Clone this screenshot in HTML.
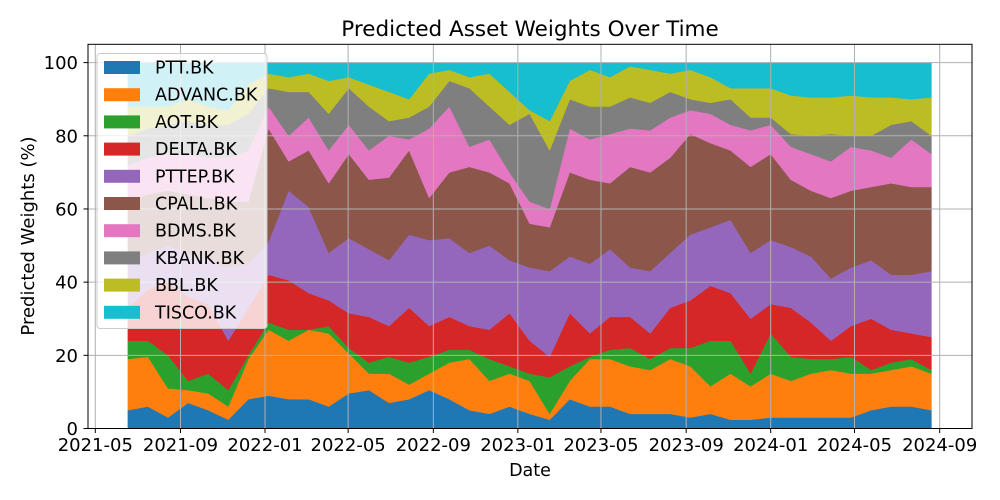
<!DOCTYPE html>
<html><head><meta charset="utf-8"><style>
html,body{margin:0;padding:0;background:#fff;}
svg{display:block;font-family:"DejaVu Sans","Liberation Sans",sans-serif;}
</style></head><body>
<svg id="chart" width="1000" height="500" viewBox="0 0 1000 500">
<rect x="0" y="0" width="1000" height="500" fill="#fff"/>
<text x="530" y="36" text-anchor="middle" font-size="21.5" fill="#000">Predicted Asset Weights Over Time</text>
<g id="areas"></g>
<g id="grid"></g>
<rect x="88" y="44.3" width="884" height="384.2" fill="none" stroke="#000" stroke-width="1"/>
<g id="xticks"></g>
<g id="yticks"></g>
<text x="530" y="476" text-anchor="middle" font-size="17.5">Date</text>
<text transform="translate(34,236) rotate(-90)" text-anchor="middle" font-size="18">Predicted Weights (%)</text>
<g id="legend"></g>
</svg>
<script>
const dates=["2021-06-17","2021-07-16","2021-08-14","2021-09-12","2021-10-11","2021-11-09","2021-12-08","2022-01-06","2022-02-04","2022-03-05","2022-04-03","2022-05-02","2022-05-31","2022-06-29","2022-07-28","2022-08-26","2022-09-24","2022-10-23","2022-11-21","2022-12-20","2023-01-18","2023-02-16","2023-03-17","2023-04-15","2023-05-14","2023-06-12","2023-07-11","2023-08-09","2023-09-07","2023-10-06","2023-11-04","2023-12-03","2024-01-01","2024-01-30","2024-02-28","2024-03-28","2024-04-26","2024-05-25","2024-06-23","2024-07-22","2024-08-20"];
const seriesNames=["PTT.BK","ADVANC.BK","AOT.BK","DELTA.BK","PTTEP.BK","CPALL.BK","BDMS.BK","KBANK.BK","BBL.BK","TISCO.BK"];
const colors=["#1f77b4","#ff7f0e","#2ca02c","#d62728","#9467bd","#8c564b","#e377c2","#7f7f7f","#bcbd22","#17becf"];
const ptt=[5,6,3,7,5,2.4,8,9,8,8,6,9.6,10.5,7,8,10.5,8,5,4,6,4,2.4,8,6,6,4,4,4,3,4,2.4,2.4,3,3,3,3,3,5,6,6,5];
const advanc=[14,13.6,8,3.5,4.6,3.6,11,18,16,19,20,10.9,4.5,8,4,4.5,10,14,9,9,9,1.6,5,13,13,13,12,15,14,7.5,12.6,9.1,12,10,12,13,12,10,10,11,10];
const aot=[5,4.4,9,2.5,5.4,4.5,1,2,3,0,2,1.5,3,4.6,6,4.6,3.5,2.5,6,2,2,10,4,0.6,2.5,5,3,3,5,12.5,9,3.5,11,6.6,4,3,4.6,1,2,2,1];
const delta=[9,14,20,23,19,13.5,13,13,13.5,10,7,9.5,12.5,8.4,15,8.4,9,6.5,8,14.5,9,5.6,14.5,6.4,9,8.5,7,11,13,15,13,15,8,13.4,10,5,8.4,14,9,7,9];
const pttep=[12,10,10,12,12,20,12,9,24.5,23.5,13,20.5,18.5,18,20,23.5,21.5,20,23,14.5,20,23.4,15.5,19,18.5,13.5,17,15,18,16,20,18,17.5,16.6,18,17,16,16,15,16,18];
const cpall=[17,16,15,16,17,18,17,31,8,15.5,19,23,19,22.6,23,11.5,18,23.5,20,21,12,12,23,23,18,27.5,27,26,27.5,23,19,23.5,23.5,18.4,18,22,21,20,25,24,23];
const bdms=[10,10,10,11,11,12,14,6,7,9,9,8,8,11.4,3,19,18,5.5,9,3,6,5,12,11,13.5,10.5,11.5,11,6.5,8,7,10,8,9,10,10,12,10,7,13,9];
const kbank=[8,8,8,9,9,9,10,5,12,7,10,10,12,4,6,6,7,16,9,13,24,16,8,9,7.5,8.5,7.5,7,3,3,7,3.5,2,3.5,5,7.5,3,4,9,5,5];
const bbl=[8,6,5,6,5,4,8,4,4,5,9,3,6,8,5,9,3,3,9,9,1,8,5,10,8,8.5,9,5,8,7,3,8,8,10.5,10.5,10,11,10.5,7.5,6,10.5];
const tisco=[12,12,12,10,12,13,6,3,4,3,5,4,6,8,10,3,2,4,3,8,13,16,5,2,4,1,2,3,2,4,7,7,7,9,9.5,9.5,9,9.5,9.5,10,9.5];
const series=[ptt,advanc,aot,delta,pttep,cpall,bdms,kbank,bbl,tisco];
const xTickLabels=["2021-05","2021-09","2022-01","2022-05","2022-09","2023-01","2023-05","2023-09","2024-01","2024-05","2024-09"];
const yTickLabels=[0,20,40,60,80,100];

const NS="http://www.w3.org/2000/svg";
const DAY=86400000, T0=Date.UTC(2021,4,1);
function xs(s){const p=s.split("-").map(Number);const t=Date.UTC(p[0],p[1]-1,p[2]||1);return 95.3+(t-T0)/DAY*0.6927;}
function ys(v){return 428.5-v*3.659;}
function mk(tag,attrs,parent){const e=document.createElementNS(NS,tag);for(const k in attrs)e.setAttribute(k,attrs[k]);parent.appendChild(e);return e;}

const areas=document.getElementById("areas");
let base=dates.map(()=>0);
series.forEach((vals,si)=>{
  const top=base.map((b,i)=>b+vals[i]);
  let pts=dates.map((d,i)=>xs(d).toFixed(1)+","+ys(top[i]).toFixed(1));
  for(let i=dates.length-1;i>=0;i--)pts.push(xs(dates[i]).toFixed(1)+","+ys(base[i]).toFixed(1));
  const p=mk("polygon",{points:pts.join(" "),fill:colors[si],stroke:colors[si],"stroke-width":"0.5"},areas);
  
  
  base=top;
});

const grid=document.getElementById("grid");
const xt=document.getElementById("xticks");
xTickLabels.forEach(l=>{
  const x=xs(l);
  const g=mk("line",{x1:x,x2:x,y1:44.3,y2:428.5,stroke:"#b0b0b0","stroke-width":"1"},grid);
  
  
  mk("line",{x1:x,x2:x,y1:428.5,y2:433,stroke:"#000","stroke-width":"1"},xt);
  const t=mk("text",{x:x,y:451,"text-anchor":"middle","font-size":"18"},xt);
  t.textContent=l;
  
  
});
const yt=document.getElementById("yticks");
yTickLabels.forEach(v=>{
  const y=ys(v);
  const g=mk("line",{x1:88,x2:972,y1:y,y2:y,stroke:"#b0b0b0","stroke-width":"1"},grid);
  
  
  mk("line",{x1:83.5,x2:88,y1:y,y2:y,stroke:"#000","stroke-width":"1"},yt);
  const t=mk("text",{x:78,y:y+6.5,"text-anchor":"end","font-size":"18"},yt);
  t.textContent=v;
  
  
});

const lg=document.getElementById("legend");
const box=mk("rect",{x:97,y:53.5,width:170,height:275,rx:3,fill:"#fff","fill-opacity":"0.8",stroke:"#cccccc","stroke-width":"1"},lg);


seriesNames.forEach((n,i)=>{
  const cy=67.5+i*27.2;
  const r=mk("rect",{x:104,y:cy-6.5,width:36,height:13,fill:colors[i]},lg);
  
  
  const t=mk("text",{x:155,y:cy+6,"font-size":"17.5"},lg);
  t.textContent=n;
  
  
});
</script>
</body></html>
